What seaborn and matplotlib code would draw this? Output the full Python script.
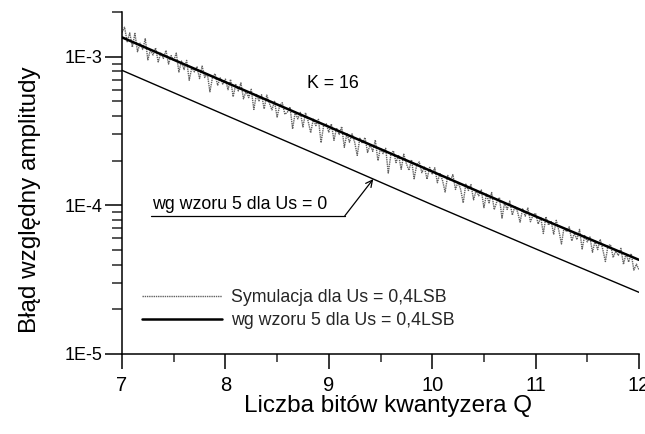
import numpy as np
import pandas as pd
import matplotlib
matplotlib.use("Agg")
import matplotlib.pyplot as plt
import seaborn as sns
from matplotlib.lines import Line2D
from matplotlib.ticker import FixedLocator, NullFormatter

# ---------------- data ----------------
# formula lines (value at integer Q)
q_formula = [7, 8, 9, 10, 11, 12]
us04_formula = [1.35e-3, 6.75e-4, 3.38e-4, 1.69e-4, 8.44e-5, 4.3e-5]
us0_formula = [8.1e-4, 4.05e-4, 2.03e-4, 1.01e-4, 5.1e-5, 2.6e-5]

# simulation (Us = 0.4 LSB), Q from 7 to 12 in steps of 0.025, values in units of 1e-5
sim_step = 0.025
sim_values_1e5 = [
    145.8, 157.9, 126.2, 144.6, 115.9, 143.6, 108.1, 123.4, 111.9, 132.1,
    95.3, 111.6, 102.7, 114.7, 92.3, 105.8, 97.4, 110.3, 89.3, 101.8,
    94.0, 105.8, 78.9, 93.5, 82.0, 94.5, 69.5, 84.6, 79.1, 85.6,
    71.3, 86.5, 72.5, 77.4, 58.1, 72.4, 76.9, 64.3, 72.1, 65.4,
    70.7, 60.0, 70.4, 53.8, 65.0, 58.9, 66.7, 52.1, 58.75, 53.1,
    60.4, 44.2, 55.7, 50.5, 55.5, 44.6, 55.2, 48.7, 43.9, 50.1,
    39.3, 46.9, 49.1, 41.0, 42.4, 45.9, 32.7, 42.3, 38.2, 42.2,
    33.7, 42.0, 36.9, 30.8, 38.0, 34.4, 37.9, 26.4, 34.4, 35.4,
    31.1, 35.3, 27.4, 33.1, 30.0, 33.9, 24.6, 30.4, 26.6, 30.3,
    26.6, 21.7, 28.3, 26.1, 28.6, 22.7, 25.6, 23.1, 27.5, 20.0,
    24.3, 22.3, 24.2, 16.5, 21.9, 23.3, 19.4, 21.8, 17.5, 22.1,
    19.1, 17.2, 20.3, 15.1, 18.7, 19.6, 16.6, 18.1, 15.0, 18.0,
    16.3, 17.9, 14.2, 16.5, 14.7, 12.3, 15.9, 14.7, 16.1, 12.8,
    14.4, 12.8, 10.4, 13.9, 12.6, 13.8, 10.9, 12.6, 11.6, 12.7,
    9.65, 11.9, 10.4, 12.2, 9.36, 10.6, 11.3, 8.21, 10.4, 9.39,
    10.7, 8.60, 9.85, 9.07, 7.71, 9.49, 8.46, 9.60, 7.76, 8.59,
    8.85, 7.49, 8.28, 6.47, 8.38, 7.37, 7.85, 6.40, 7.93, 6.76,
    5.50, 7.09, 6.64, 7.17, 5.77, 6.51, 5.88, 6.89, 5.09, 6.26,
    5.68, 6.14, 4.84, 5.75, 5.04, 5.91, 5.04, 4.19, 5.36, 5.44,
    4.46, 4.93, 4.61, 5.14, 4.01, 4.75, 4.16, 4.73, 3.67, 4.02,
    3.68,
]

x_ticks = [7, 8, 9, 10, 11, 12]
x_ticklabels = ["7", "8", "9", "10", "11", "12"]
y_ticks = [1e-5, 1e-4, 1e-3]
y_ticklabels = ["1E-5", "1E-4", "1E-3"]

label_sim = "Symulacja dla Us = 0,4LSB"
label_us04 = "wg wzoru 5 dla Us = 0,4LSB"
label_us0 = "wg wzoru 5 dla Us = 0"
x_label = "Liczba bitów kwantyzera Q"
y_label = "Błąd względny amplitudy"
k_text = "K = 16"

# ---------------- frames ----------------
sim_q = 7 + sim_step * np.arange(len(sim_values_1e5))
df_sim = pd.DataFrame({"Q": sim_q, "val": np.array(sim_values_1e5) * 1e-5})
df_f = pd.DataFrame({"Q": q_formula, "us04": us04_formula, "us0": us0_formula})

# ---------------- style ----------------
sns.set_theme(style="ticks")
plt.rcParams["font.family"] = ["Liberation Sans", "DejaVu Sans"]
plt.rcParams["axes.linewidth"] = 1.1

fig = plt.figure(figsize=(6.45, 4.34), dpi=100)
W, H = 645, 434
L, R, T, B = 122, 639, 12, 354
ax = fig.add_axes([L / W, 1 - B / H, (R - L) / W, (B - T) / H])

sim_color = "0.38"
sim_ls = (0, (1, 0.6))
sns.lineplot(data=df_sim, x="Q", y="val", ax=ax, color=sim_color, lw=1.0,
             linestyle=sim_ls, legend=False, estimator=None)
sns.lineplot(data=df_f, x="Q", y="us04", ax=ax, color="black", lw=1.8,
             legend=False, estimator=None)
sns.lineplot(data=df_f, x="Q", y="us0", ax=ax, color="black", lw=1.0,
             legend=False, estimator=None)

ax.set_yscale("log")
ax.set_xlim(7, 12)
ax.set_ylim(1e-5, 2e-3)

for s in ["top", "right"]:
    ax.spines[s].set_visible(False)
for s in ["left", "bottom"]:
    ax.spines[s].set_color("black")

ax.xaxis.set_major_locator(FixedLocator(x_ticks))
ax.set_xticklabels(x_ticklabels)
ax.xaxis.set_minor_locator(FixedLocator([7.5, 8.5, 9.5, 10.5, 11.5]))
ax.yaxis.set_major_locator(FixedLocator(y_ticks))
ax.set_yticklabels(y_ticklabels)
ax.yaxis.set_minor_locator(matplotlib.ticker.LogLocator(base=10, subs=np.arange(2, 10)))
ax.yaxis.set_minor_formatter(NullFormatter())

ax.tick_params(axis="x", which="major", length=11, width=1.1, direction="out",
               pad=5, labelsize=14.5, colors="black")
ax.tick_params(axis="x", which="minor", length=6, width=1.1, direction="out")
ax.tick_params(axis="y", which="major", length=12, width=1.1, direction="out",
               pad=2, labelsize=13, colors="black")
ax.tick_params(axis="y", which="minor", length=7, width=1.1, direction="out")

ax.set_xlabel(x_label, fontsize=17.5, color="black")
ax.set_ylabel(y_label, fontsize=17.5, color="black")
ax.xaxis.set_label_coords(0.515, -0.152)
ax.yaxis.set_label_coords(-0.178, 0.45)
ax.xaxis.label.set_va("center")
ax.yaxis.label.set_va("center")

# K = 16
ax.text(0.408, 0.792, k_text, transform=ax.transAxes, fontsize=12.8,
        ha="center", va="center", color="black")

# annotation for Us = 0 line
ax.text(0.058, 0.412, label_us0, transform=ax.transAxes, fontsize=12.8,
        ha="left", va="bottom", color="black")
ax.plot([0.057, 0.431], [0.404, 0.404], transform=ax.transAxes,
        color="black", lw=0.9)
tip_q = 9.43
tip_val = 10 ** np.interp(tip_q, q_formula, np.log10(us0_formula))
ax.annotate("", xy=(tip_q, tip_val), xycoords="data",
            xytext=(0.431, 0.404), textcoords="axes fraction",
            arrowprops=dict(arrowstyle="->", lw=0.9, color="black",
                            shrinkA=0, shrinkB=0, mutation_scale=12))

# legend
handles = [
    Line2D([], [], color=sim_color, lw=1.0, linestyle=sim_ls),
    Line2D([], [], color="black", lw=1.8),
]
ax.legend(handles, [label_sim, label_us04], loc="upper left",
          bbox_to_anchor=(0.038, 0.19), frameon=False, fontsize=12.8,
          handlelength=4.5, handletextpad=0.55, labelspacing=0.35,
          borderpad=0, borderaxespad=0)

fig.savefig("out.png", dpi=100)
